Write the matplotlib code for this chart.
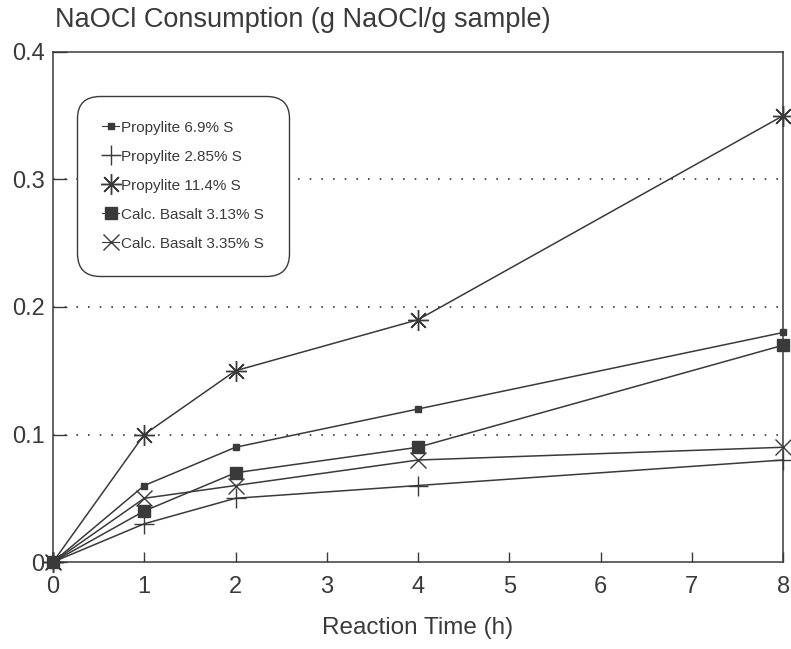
import matplotlib.pyplot as plt

plt.rcParams['font.family'] = ['Liberation Sans', 'DejaVu Sans']

# Reaction time (h)
hours = [0, 1, 2, 4, 8]

# NaOCl consumption (g NaOCl / g sample)
prop_69 = [0, 0.06, 0.09, 0.12, 0.18]
prop_285 = [0, 0.03, 0.05, 0.06, 0.08]
prop_114 = [0, 0.10, 0.15, 0.19, 0.35]
basalt_313 = [0, 0.04, 0.07, 0.09, 0.17]
basalt_335 = [0, 0.05, 0.06, 0.08, 0.09]

labels = ['Propylite 6.9% S', 'Propylite 2.85% S', 'Propylite 11.4% S',
          'Calc. Basalt 3.13% S', 'Calc. Basalt 3.35% S']

ink = '#3a3a3a'

fig = plt.figure(figsize=(7.91, 6.49), dpi=100)
ax = fig.add_axes([0.067, 0.134, 0.923, 0.786])

ax.plot(hours, prop_69, color=ink, lw=1.1, marker='s', ms=4, label=labels[0], clip_on=False)
ax.plot(hours, prop_285, color=ink, lw=1.1, marker='+', ms=15, mew=1.0, label=labels[1], clip_on=False)
ax.plot(hours, prop_114, color=ink, lw=1.1, marker=(8, 2, 0), ms=15, mew=1.0, label=labels[2], clip_on=False)
ax.plot(hours, basalt_313, color=ink, lw=1.1, marker='s', ms=9, label=labels[3], clip_on=False)
ax.plot(hours, basalt_335, color=ink, lw=1.1, marker='x', ms=12, mew=1.0, label=labels[4], clip_on=False)

ax.set_xlim(0, 8)
ax.set_ylim(0, 0.4)
ax.set_xticks(range(9))
ax.set_yticks([0, 0.1, 0.2, 0.3, 0.4])
ax.set_yticklabels(['0', '0.1', '0.2', '0.3', '0.4'])

for y in [0.1, 0.2, 0.3]:
    ax.axhline(y, color=ink, lw=1.2, ls=(0, (1, 6)), zorder=0)

for side in ['top', 'right', 'left', 'bottom']:
    ax.spines[side].set_color(ink)
    ax.spines[side].set_linewidth(1.1)

ax.tick_params(axis='x', direction='in', length=7, width=1, color=ink,
               labelsize=17, labelcolor=ink, pad=10)
ax.tick_params(axis='y', direction='in', length=10, width=1, color=ink,
               labelsize=17, labelcolor=ink, pad=6)

ax.set_xlabel('Reaction Time (h)', fontsize=17.5, color=ink, labelpad=14)
fig.text(0.069, 0.958, 'NaOCl Consumption (g NaOCl/g sample)', fontsize=19.5,
         color=ink, ha='left', va='baseline')

leg = ax.legend(loc='upper left', bbox_to_anchor=(0.028, 0.922), fontsize=11,
                handlelength=1.1, handletextpad=0.1, labelspacing=0.98,
                borderpad=1.4, fancybox=True, framealpha=1, edgecolor=ink,
                labelcolor=ink)
leg.get_frame().set_boxstyle('round,pad=0.25,rounding_size=1.5')
leg.get_frame().set_linewidth(1.0)
for h in leg.legend_handles:
    h.set_linewidth(0.8)

fig.savefig('out.png', dpi=100)
